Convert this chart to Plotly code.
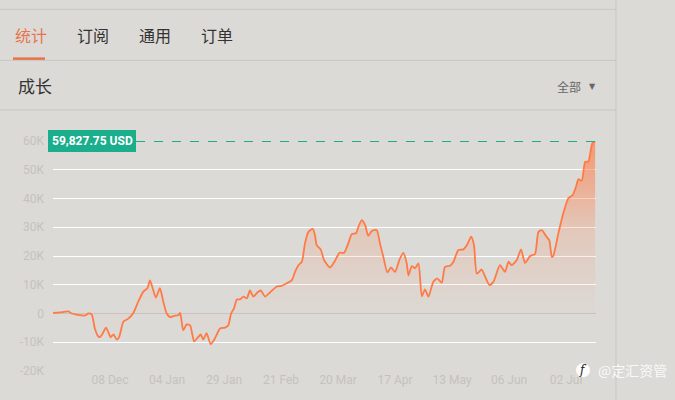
import plotly.graph_objects as go

# ---- data ----
day_index = [0, 2.5, 5.4, 6.6, 8.3, 11.2, 12.4, 13.6, 14.7, 15.9, 16.5, 17.4, 18.6, 19.4, 20.2,
             21.2, 22.4, 23.2, 24.7, 26.4, 28.2, 29.9, 31.7, 33.1, 34.0, 34.8, 36.1, 37.5, 38.7,
             39.9, 41.1, 42.5, 44.0, 44.6, 45.7, 46.9, 48.1, 49.5, 50.6, 51.8, 52.7, 53.9, 55.3,
             56.8, 58.6, 60.4, 61.5, 62.5, 63.5, 64.5, 65.6, 66.8, 68.0, 69.1, 70.3, 71.7, 72.9,
             74.4, 76.1, 78.5, 80.2, 82.0, 83.8, 84.9, 86.1, 87.3, 88.4, 89.6, 91.1, 91.9, 92.5,
             93.9, 95.1, 97.2, 98.9, 100.5, 102.1, 103.6, 104.8, 106.3, 107.1, 108.3, 109.5,
             110.6, 111.8, 113.6, 114.7, 115.9, 117.3, 118.6, 120.0, 121.5, 122.9, 124.1, 124.7,
             125.9, 127.0, 128.2, 129.4, 130.5, 131.7, 133.4, 134.8, 136.4, 137.5, 139.3, 140.5,
             142.2, 144.0, 145.2, 146.7, 147.7, 148.7, 150.4, 151.6, 153.1, 154.5, 156.8, 158.6,
             159.8, 160.9, 162.7, 164.2, 165.6, 167.4, 169.1, 170.3, 171.5, 173.0, 174.1, 175.0,
             175.5, 177.3, 179.0, 180.8, 182.3, 183.5, 184.3, 185.5, 186.7, 187.8, 188.4, 189.2,
             190.2]
growth_k = [0.2, 0.4, 0.7, 0.0, -0.4, -0.7, 0.0, -0.4, -5.3, -8.0, -8.2, -7.0, -4.9, -6.5, -8.2,
            -7.3, -9.1, -8.2, -2.9, -1.8, 0.2, 4.1, 7.6, 8.8, 11.5, 9.4, 5.5, 8.8, 4.1,
            0.0, -1.3, -0.8, -0.6, 0.2, -5.9, -3.8, -4.1, -9.7, -8.6, -7.3, -9.1, -6.8, -10.7,
            -8.7, -5.2, -4.9, -4.1, 0.0, 1.8, 4.9, 4.9, 5.9, 5.3, 8.0, 5.9, 7.3, 8.0,
            5.9, 7.3, 9.4, 9.6, 10.5, 11.6, 14.5, 16.8, 18.0, 24.4, 28.4, 29.4, 27.3, 23.8,
            22.3, 18.6, 16.0, 18.3, 21.1, 21.1, 24.4, 27.6, 27.9, 30.0, 32.5, 30.8,
            27.0, 28.7, 29.0, 24.4, 19.7, 14.3, 16.0, 14.5, 18.6, 21.1, 17.4, 13.3,
            16.5, 15.7, 17.4, 6.0, 8.4, 5.8, 11.0, 12.2, 10.7, 16.2, 16.6, 18.0,
            22.1, 22.3, 23.8, 26.7, 23.8, 13.9, 15.3, 12.8, 9.9, 11.0, 16.8, 14.5,
            18.0, 16.8, 18.6, 22.3, 17.6, 20.0, 20.7, 28.4, 29.0, 26.9, 25.5, 19.7,
            20.0, 27.9, 34.8, 40.1, 41.2, 44.1, 46.7, 46.2, 52.8, 52.8, 55.2, 59.2,
            59.82775]
growth = [v * 1000 for v in growth_k]

tick_pos = [20, 40, 60, 80, 100, 120, 140, 160, 180]
tick_text = ["08 Dec", "04 Jan", "29 Jan", "21 Feb", "20 Mar", "17 Apr", "13 May", "06 Jun", "02 Jul"]
y_ticks = [-20000, -10000, 0, 10000, 20000, 30000, 40000, 50000, 60000]
y_text = ["-20K", "-10K", "0", "10K", "20K", "30K", "40K", "50K", "60K"]
last_label = "59,827.75 USD"
tabs = ["统计", "订阅", "通用", "订单"]

# ---- layout geometry (pixels) ----
W, H = 675, 400
L, R, T, B = 53, 596, 141, 370.7
BG = "#dcdad6"
LINE = "#c9c7c3"
ORANGE = "#ff7a45"
TEAL = "#1aae8c"


def px(x):
    return (x - L) / (R - L)


def py(y):
    return (B - y) / (B - T)


fig = go.Figure()
fig.add_trace(go.Scatter(
    x=day_index, y=growth, mode="lines",
    line=dict(color=ORANGE, width=1.8, shape="spline", smoothing=0.6),
    fill="tozeroy",
    fillgradient=dict(type="vertical",
                      colorscale=[[0, "rgba(255,122,69,0)"], [0.3, "rgba(255,122,69,0.03)"],
                                  [0.6, "rgba(255,122,69,0.18)"], [1, "rgba(255,122,69,0.7)"]],
                      start=-20000, stop=60000),
    hoverinfo="skip", showlegend=False,
))

shapes = []
# dashed level line at last value
shapes.append(dict(type="line", xref="paper", yref="y", x0=px(136), x1=1, y0=growth[-1], y1=growth[-1],
                   line=dict(color=TEAL, width=1, dash="dash")))
# label box
shapes.append(dict(type="rect", xref="paper", yref="paper", x0=px(48), x1=px(136), y0=py(152), y1=py(130),
                   fillcolor=TEAL, line=dict(width=0)))
# page chrome lines
for yy in [9.5, 60.5, 110]:
    shapes.append(dict(type="line", xref="paper", yref="paper", x0=px(0), x1=px(616), y0=py(yy), y1=py(yy),
                       line=dict(color=LINE, width=1)))
shapes.append(dict(type="line", xref="paper", yref="paper", x0=px(616), x1=px(616), y0=py(0), y1=py(400),
                   line=dict(color=LINE, width=1)))
# active tab underline
shapes.append(dict(type="rect", xref="paper", yref="paper", x0=px(13), x1=px(45), y0=py(60), y1=py(57.5),
                   fillcolor="#e8734a", line=dict(width=0)))
# watermark logo circle
shapes.append(dict(type="circle", xref="paper", yref="paper", x0=px(576), x1=px(590), y0=py(377), y1=py(363),
                   fillcolor="rgba(255,255,255,0.9)", line=dict(width=0)))

ann = []
ann.append(dict(x=px(92), y=py(141), xref="paper", yref="paper", text="<b>" + last_label + "</b>",
                showarrow=False, font=dict(color="white", size=12, family="Roboto"),
                xanchor="center", yanchor="middle"))
tab_x = [13, 75, 137, 199]
for i, (t, xx) in enumerate(zip(tabs, tab_x)):
    ann.append(dict(x=px(xx), y=py(35), xref="paper", yref="paper", text=t, showarrow=False,
                    xanchor="left", yanchor="middle",
                    font=dict(size=16, color="#e8734a" if i == 0 else "#333333", family="Noto Sans CJK SC")))
ann.append(dict(x=px(16), y=py(86), xref="paper", yref="paper", text="成长", showarrow=False,
                xanchor="left", yanchor="middle",
                font=dict(size=17, color="#333333", family="Noto Sans CJK SC")))
ann.append(dict(x=px(583), y=py(87), xref="paper", yref="paper", text="全部", showarrow=False,
                xanchor="right", yanchor="middle",
                font=dict(size=12, color="#666666", family="Noto Sans CJK SC")))
ann.append(dict(x=px(592), y=py(87), xref="paper", yref="paper", text="▼", showarrow=False,
                xanchor="center", yanchor="middle",
                font=dict(size=8, color="#666666", family="DejaVu Sans")))
ann.append(dict(x=px(583), y=py(370), xref="paper", yref="paper", text="<i>f</i>", showarrow=False,
                xanchor="center", yanchor="middle",
                font=dict(size=12, color="#222222", family="DejaVu Serif")))
ann.append(dict(x=px(596), y=py(370), xref="paper", yref="paper", text="@定汇资管", showarrow=False,
                xanchor="left", yanchor="middle",
                font=dict(size=14, color="rgba(255,255,255,0.85)", family="Noto Sans CJK SC")))

fig.update_layout(
    width=W, height=H,
    margin=dict(l=L, r=W - R, t=T, b=H - B),
    paper_bgcolor=BG, plot_bgcolor=BG,
    shapes=shapes, annotations=ann,
    xaxis=dict(range=[0, 190.5], tickmode="array", tickvals=tick_pos, ticktext=tick_text,
               showgrid=False, zeroline=False, showline=False, ticks="",
               tickfont=dict(color="#c4c2be", size=12, family="Roboto"), fixedrange=True),
    yaxis=dict(range=[-20000, 60000], tickmode="array", tickvals=y_ticks, ticktext=y_text,
               showgrid=True, gridcolor="white", gridwidth=1,
               zeroline=True, zerolinecolor="#c6c4c0", zerolinewidth=1,
               showline=False, ticks="", ticklabelstandoff=8,
               tickfont=dict(color="#c4c2be", size=12, family="Roboto"), fixedrange=True),
)

fig.write_html("out.html", config={"displayModeBar": False},
               post_script="document.body.style.margin='0';document.body.style.background='" + BG + "';")
